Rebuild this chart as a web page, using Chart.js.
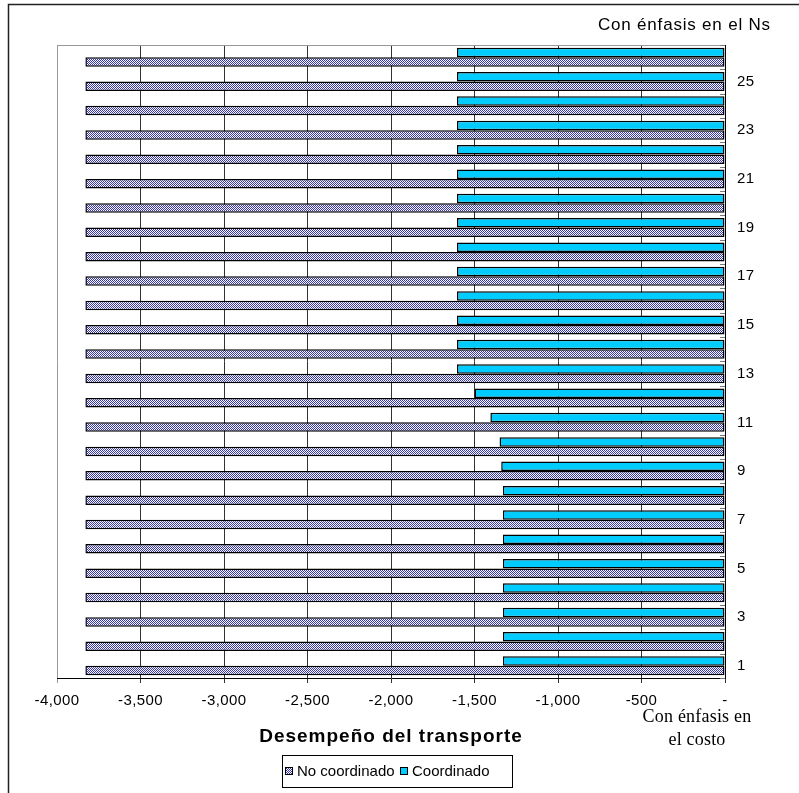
<!DOCTYPE html>
<html>
<head>
<meta charset="utf-8">
<script src="https://cdn.jsdelivr.net/npm/chart.js@4/dist/chart.umd.min.js"></script>
<style>
  html, body { margin: 0; padding: 0; background: #fff; }
  #wrap { width: 799px; height: 793px; }
</style>
</head>
<body>
<div id="wrap"><canvas id="c" width="799" height="793"></canvas></div>
<script>
// Scenario numbers, 1 (cost emphasis) at the bottom to 26 (Ns emphasis) at the top
const categories = ['1','2','3','4','5','6','7','8','9','10','11','12','13',
                    '14','15','16','17','18','19','20','21','22','23','24','25','26'];

// Transport performance, uncoordinated
const noCoordinado = [-3830,-3830,-3830,-3830,-3830,-3830,-3830,-3830,-3830,-3830,-3830,-3830,-3830,
                      -3830,-3830,-3830,-3830,-3830,-3830,-3830,-3830,-3830,-3830,-3830,-3830,-3830];

// Transport performance, coordinated
const coordinado = [-1330,-1330,-1330,-1330,-1330,-1330,-1330,-1330,-1340,-1350,-1405,-1500,-1605,
                    -1605,-1605,-1605,-1605,-1605,-1605,-1605,-1605,-1605,-1605,-1605,-1605,-1605];

// Value axis
const xMin = -4000;
const xMax = 0;
const xStep = 500;

const seriesNames = ['No coordinado', 'Coordinado'];
const axisTitle = 'Desempeño del transporte';
const topNote = 'Con énfasis en el Ns';
const bottomNote = ['Con énfasis en', 'el costo'];

// Checkered fill for the uncoordinated series
function checker() {
  const p = document.createElement('canvas');
  p.width = 2; p.height = 2;
  const g = p.getContext('2d');
  g.fillStyle = '#ffffff'; g.fillRect(0, 0, 2, 2);
  g.fillStyle = '#3434b4';
  g.fillRect(0, 0, 1, 1);
  g.fillRect(1, 1, 1, 1);
  return g.createPattern(p, 'repeat');
}

const canvas = document.getElementById('c');
const patternFill = checker();
const cyanFill = '#00ccff';

Chart.defaults.font.family = "'Liberation Sans', Arial, sans-serif";
Chart.defaults.color = '#000';

const decorations = {
  id: 'decorations',
  beforeDraw(chart) {
    const c = chart.ctx;
    c.fillStyle = '#fff';
    c.fillRect(0, 0, chart.width, chart.height);
    // slightly open spacing for the axis labels
    c.letterSpacing = '0.4px';
  },
  beforeDatasetsDraw(chart) {
    const c = chart.ctx, a = chart.chartArea;
    c.save();
    c.strokeStyle = '#999';
    c.lineWidth = 1;
    c.beginPath();
    c.moveTo(a.left, a.top + 0.5);
    c.lineTo(a.right, a.top + 0.5);
    c.stroke();
    c.restore();
  },
  afterDraw(chart) {
    const c = chart.ctx, a = chart.chartArea;
    const ys = chart.scales.y;
    c.save();

    // outer frame (top and left edges)
    c.strokeStyle = '#222';
    c.lineWidth = 1.5;
    c.beginPath();
    c.moveTo(8.5, chart.height);
    c.lineTo(8.5, 4.5);
    c.lineTo(chart.width, 4.5);
    c.stroke();

    // small inside tick marks at category boundaries on the right axis
    const pitch = Math.abs(ys.getPixelForValue(1) - ys.getPixelForValue(0));
    c.strokeStyle = '#777';
    c.lineWidth = 1;
    c.beginPath();
    for (let i = 0; i <= categories.length; i++) {
      const y = Math.round(ys.getPixelForValue(0) + pitch / 2 - i * pitch) + 0.5;
      c.moveTo(a.right - 5, y);
      c.lineTo(a.right, y);
    }
    c.stroke();

    // note above the plot
    c.fillStyle = '#000';
    c.textBaseline = 'middle';
    c.textAlign = 'left';
    c.font = "17px 'Liberation Sans', Arial, sans-serif";
    c.letterSpacing = '0.8px';
    c.fillText(topNote, 598, 25);

    // note under the zero end of the axis
    c.textAlign = 'center';
    c.font = "18px 'Liberation Serif', 'Times New Roman', serif";
    c.letterSpacing = '0.2px';
    c.fillText(bottomNote[0], 697, 717);
    c.fillText(bottomNote[1], 697, 740);

    // axis title
    c.font = "bold 19px 'Liberation Sans', Arial, sans-serif";
    c.letterSpacing = '1px';
    c.fillText(axisTitle, (a.left + a.right) / 2, 737);

    // legend with frame
    c.letterSpacing = '0px';
    c.lineWidth = 1;
    c.strokeStyle = '#000';
    c.strokeRect(282.5, 755.5, 230, 32);
    c.font = "15px 'Liberation Sans', Arial, sans-serif";
    c.textAlign = 'left';
    const entries = [
      { label: seriesNames[0], fill: patternFill, x: 285 },
      { label: seriesNames[1], fill: cyanFill, x: 400 }
    ];
    entries.forEach(e => {
      c.fillStyle = e.fill;
      c.fillRect(e.x, 767, 8, 8);
      c.strokeStyle = '#000';
      c.strokeRect(e.x + 0.5, 767.5, 7, 7);
      c.fillStyle = '#000';
      c.fillText(e.label, e.x + 12, 771.5);
    });
    c.restore();
    c.letterSpacing = '0px';
  }
};

new Chart(canvas, {
  type: 'bar',
  data: {
    labels: categories,
    datasets: [
      {
        label: seriesNames[1],
        data: coordinado,
        backgroundColor: cyanFill,
        borderColor: '#000',
        borderWidth: 1.5,
        borderSkipped: false
      },
      {
        label: seriesNames[0],
        data: noCoordinado,
        backgroundColor: patternFill,
        borderColor: '#000',
        borderWidth: 1.5,
        borderSkipped: false
      }
    ]
  },
  options: {
    indexAxis: 'y',
    responsive: false,
    animation: false,
    devicePixelRatio: 1,
    layout: { padding: { left: 57, top: 45, right: 24, bottom: 75 } },
    datasets: { bar: { categoryPercentage: 0.78, barPercentage: 1.0 } },
    plugins: {
      legend: { display: false },
      title: { display: false },
      tooltip: { enabled: false }
    },
    scales: {
      x: {
        type: 'linear',
        min: xMin,
        max: xMax,
        afterFit(s) { s.height = 40; },
        ticks: {
          stepSize: xStep,
          padding: 9,
          font: { size: 15 },
          color: '#000',
          callback: v => v === 0 ? '-' : v.toLocaleString('en-US')
        },
        grid: {
          color: ctx => (ctx.tick && ctx.tick.value === xMin) ? '#999' : '#333',
          lineWidth: 1,
          tickLength: 5
        },
        border: { display: true, color: '#000', width: 1 }
      },
      y: {
        type: 'category',
        position: 'right',
        reverse: true,
        afterFit(s) { s.width = 50; },
        grid: { display: false, drawTicks: false },
        border: { display: true, color: '#000', width: 1 },
        ticks: {
          autoSkip: false,
          padding: 12,
          font: { size: 15 },
          color: '#000',
          callback: function (v, i) { return (i % 2 === 0) ? this.getLabelForValue(v) : ''; }
        }
      }
    }
  },
  plugins: [decorations]
});
</script>
</body>
</html>
